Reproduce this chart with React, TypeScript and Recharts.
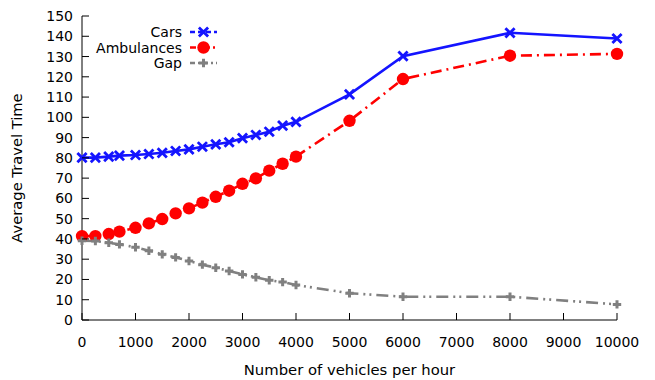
import React from 'react';
import { LineChart, Line, XAxis, YAxis, Legend, Label } from 'recharts';

const vehicles = [0, 250, 500, 700, 1000, 1250, 1500, 1750, 2000, 2250, 2500, 2750, 3000, 3250, 3500, 3750, 4000, 5000, 6000, 8000, 10000];
const cars = [80.1, 80.1, 80.6, 81.1, 81.4, 81.9, 82.5, 83.4, 84.2, 85.5, 86.7, 87.7, 89.7, 91.3, 92.9, 95.9, 97.8, 111.3, 130.2, 141.7, 138.9];
const ambulances = [41.4, 41.4, 42.4, 43.6, 45.5, 47.7, 49.8, 52.6, 55.1, 57.9, 60.8, 63.8, 67.2, 69.9, 73.7, 77.1, 80.6, 98.3, 118.9, 130.4, 131.3];
const gap = [39.1, 39.0, 38.1, 37.3, 35.9, 34.2, 32.4, 30.9, 29.1, 27.3, 25.8, 24.2, 22.5, 21.1, 19.6, 18.7, 17.3, 13.2, 11.5, 11.5, 7.7];
const xTicks = [0, 1000, 2000, 3000, 4000, 5000, 6000, 7000, 8000, 9000, 10000];
const yTicks = [0, 10, 20, 30, 40, 50, 60, 70, 80, 90, 100, 110, 120, 130, 140, 150];
const seriesNames = ['Cars', 'Ambulances', 'Gap'];

const BLUE = '#1414ff';
const RED = '#ff0000';
const GRAY = '#808080';
const FONT = 'DejaVu Sans';
const TICK = 7;

const data = vehicles.map((v, i) => ({ v, cars: cars[i], ambulances: ambulances[i], gap: gap[i] }));

const dashes: Record<string, string | undefined> = {
  cars: undefined,
  ambulances: '11 5 2 5',
  gap: '12 5 2 4 2 5',
};

function marker(kind: string, cx: number, cy: number, key?: string) {
  if (kind === 'cars') {
    const s = 4.6;
    return (
      <path key={key} d={`M${cx - s},${cy - s}L${cx + s},${cy + s}M${cx - s},${cy + s}L${cx + s},${cy - s}`} stroke={BLUE} strokeWidth={2.8} fill="none" />
    );
  }
  if (kind === 'ambulances') {
    return <circle key={key} cx={cx} cy={cy} r={6.2} fill={RED} stroke="none" />;
  }
  const s = 4.2;
  return (
    <path key={key} d={`M${cx - s},${cy}L${cx + s},${cy}M${cx},${cy - s}L${cx},${cy + s}`} stroke={GRAY} strokeWidth={3} fill="none" />
  );
}

const makeDot = (kind: string) => (p: any) => {
  if (p.cx == null || p.cy == null) return <g key={`${kind}-${p.index}`} />;
  return marker(kind, p.cx, p.cy, `${kind}-${p.index}`);
};

const txt = { fontFamily: FONT, fontSize: 14, fill: '#000' };

const BottomTick = (p: any) => (
  <g>
    <line x1={p.x} x2={p.x} y1={p.y} y2={p.y - TICK} stroke="#000" strokeWidth={1} />
    <text x={p.x} y={p.y + 27} textAnchor="middle" {...txt}>{p.payload.value}</text>
  </g>
);
const TopTick = (p: any) => (
  <line x1={p.x} x2={p.x} y1={p.y} y2={p.y + TICK} stroke="#000" strokeWidth={1} />
);
const LeftTick = (p: any) => (
  <g>
    <line x1={p.x} x2={p.x + TICK} y1={p.y} y2={p.y} stroke="#000" strokeWidth={1} />
    <text x={p.x - 9} y={p.y + 5} textAnchor="end" {...txt}>{p.payload.value}</text>
  </g>
);
const RightTick = (p: any) => (
  <line x1={p.x} x2={p.x - TICK} y1={p.y} y2={p.y} stroke="#000" strokeWidth={1} />
);

const keys = ['cars', 'ambulances', 'gap'];
const colors = [BLUE, RED, GRAY];

const LegendContent = (props: any) => {
  const payload = [...(props.payload || [])].sort(
    (a: any, b: any) => seriesNames.indexOf(a.value) - seriesNames.indexOf(b.value)
  );
  return (
    <svg width={230} height={80} style={{ overflow: 'visible' }}>
      {payload.map((entry: any, i: number) => {
        const k = entry.dataKey as string;
        const y = 32 + i * 15.5;
        return (
          <g key={k}>
            <text x={182} y={y + 5} textAnchor="end" {...txt}>{entry.value}</text>
            <line x1={190} x2={217} y1={y} y2={y} stroke={entry.color} strokeWidth={2.6} strokeDasharray={k === 'cars' ? '5 3' : k === 'ambulances' ? '6 3 2 3' : '5 3 2 3'} />
            {marker(k, 203.5, y)}
          </g>
        );
      })}
    </svg>
  );
};

export default function App() {
  return (
    <div style={{ position: 'absolute', left: 0, top: 0, width: 655, height: 380, background: '#fff' }}>
      <LineChart width={655} height={380} data={data} margin={{ top: 16, right: 38, bottom: 0, left: 0 }}>
        <XAxis
          dataKey="v"
          type="number"
          domain={[0, 10000]}
          ticks={xTicks}
          interval={0}
          height={60}
          tickSize={0}
          tickMargin={0}
          tickLine={false}
          axisLine={{ stroke: '#000', strokeWidth: 1 }}
          tick={(p: any) => <BottomTick {...p} />}
        >
          <Label value="Number of vehicles per hour" position="insideBottom" offset={5} style={{ fontFamily: FONT, fontSize: 14.8, fill: '#000' }} />
        </XAxis>
        <XAxis
          xAxisId="top"
          orientation="top"
          dataKey="v"
          type="number"
          domain={[0, 10000]}
          ticks={xTicks}
          interval={0}
          height={0}
          tickSize={0}
          tickMargin={0}
          tickLine={false}
          axisLine={{ stroke: '#000', strokeWidth: 1 }}
          tick={(p: any) => <TopTick {...p} />}
        />
        <YAxis
          type="number"
          domain={[0, 150]}
          ticks={yTicks}
          interval={0}
          width={82}
          tickSize={0}
          tickMargin={0}
          tickLine={false}
          axisLine={{ stroke: '#000', strokeWidth: 1 }}
          tick={(p: any) => <LeftTick {...p} />}
        >
          <Label value="Average Travel Time" angle={-90} position="insideLeft" offset={17} style={{ fontFamily: FONT, fontSize: 14.7, fill: '#000', textAnchor: 'middle' }} />
        </YAxis>
        <YAxis
          yAxisId="right"
          orientation="right"
          type="number"
          domain={[0, 150]}
          ticks={yTicks}
          interval={0}
          width={0}
          tickSize={0}
          tickMargin={0}
          tickLine={false}
          axisLine={{ stroke: '#000', strokeWidth: 1 }}
          tick={(p: any) => <RightTick {...p} />}
        />
        <Legend
          layout="vertical"
          align="center"
          verticalAlign="middle"
          content={(p: any) => <LegendContent {...p} />}
          wrapperStyle={{ position: 'absolute', left: 0, top: 0, width: 230, height: 80 }}
        />
        {keys.map((k, i) => (
          <Line
            key={k}
            dataKey={k}
            name={seriesNames[i]}
            type="linear"
            stroke={colors[i]}
            strokeWidth={2.6}
            strokeDasharray={dashes[k]}
            dot={makeDot(k)}
            activeDot={false}
            isAnimationActive={false}
          />
        ))}
      </LineChart>
    </div>
  );
}
